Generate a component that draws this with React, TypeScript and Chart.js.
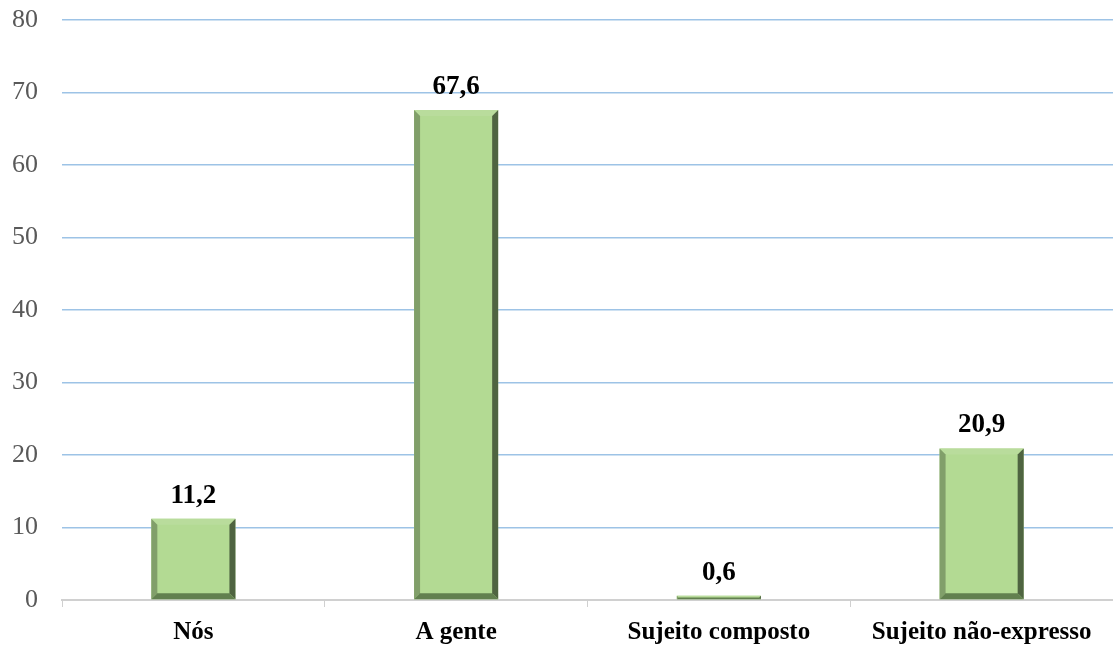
import React, { useEffect, useRef } from "react";
import { Chart, registerables } from "chart.js";

Chart.register(...registerables);

const categories = ["Nós", "A gente", "Sujeito composto", "Sujeito não-expresso"];
const values = [11.2, 67.6, 0.6, 20.9];
const valueLabels = ["11,2", "67,6", "0,6", "20,9"];

const FONT = "'Liberation Serif', 'Times New Roman', serif";

const bevelPlugin = {
  id: "bevel",
  afterDatasetsDraw(chart: any) {
    const ctx = chart.ctx;
    const meta = chart.getDatasetMeta(0);
    meta.data.forEach((bar: any, i: number) => {
      const { x, y, base, width } = bar.getProps(["x", "y", "base", "width"], true);
      const l = x - width / 2;
      const r = x + width / 2;
      const t = Math.min(y, base);
      const b = Math.max(y, base);
      const h = b - t;
      const bw = Math.min(6, h / 2);
      ctx.save();
      const poly = (pts: number[][], color: string) => {
        ctx.beginPath();
        ctx.moveTo(pts[0][0], pts[0][1]);
        for (let k = 1; k < pts.length; k++) ctx.lineTo(pts[k][0], pts[k][1]);
        ctx.closePath();
        ctx.fillStyle = color;
        ctx.fill();
      };
      poly([[l, t], [r, t], [r - bw, t + bw], [l + bw, t + bw]], "#b9dc9c");
      poly([[l, t], [l + bw, t + bw], [l + bw, b - bw], [l, b]], "#819f6a");
      poly([[r, t], [r, b], [r - bw, b - bw], [r - bw, t + bw]], "#4f6441");
      poly([[l, b], [l + bw, b - bw], [r - bw, b - bw], [r, b]], "#62804f");
      ctx.restore();

      ctx.save();
      ctx.font = `bold 27px ${FONT}`;
      ctx.fillStyle = "#000000";
      ctx.textAlign = "center";
      ctx.textBaseline = "middle";
      ctx.fillText(valueLabels[i], x, t - 23);
      ctx.restore();
    });
  },
};

export default function App() {
  const ref = useRef<HTMLCanvasElement>(null);
  useEffect(() => {
    document.body.style.margin = "0";
    const canvas = ref.current!;
    const chart = new Chart(canvas, {
      type: "bar",
      data: {
        labels: categories,
        datasets: [
          {
            data: values,
            backgroundColor: "#b3da93",
            borderWidth: 0,
            barPercentage: 0.64,
            categoryPercentage: 0.5,
          },
        ],
      },
      options: {
        animation: false,
        responsive: false,
        maintainAspectRatio: false,
        layout: { padding: { top: 20, right: 0, left: 0, bottom: 0 } },
        plugins: { legend: { display: false }, tooltip: { enabled: false } },
        scales: {
          x: {
            grid: {
              drawOnChartArea: false,
              drawTicks: true,
              tickLength: 7,
              color: "#d0d0d0",
              offset: true,
            },
            border: { color: "#d0d0d0", width: 2 },
            ticks: {
              font: { family: FONT, size: 25, weight: "bold" },
              color: "#000000",
              padding: 11,
              maxRotation: 0,
            },
            afterFit(scale: any) {
              scale.height = 48;
              scale.paddingLeft = 0;
              scale.paddingRight = 0;
            },
          },
          y: {
            min: 0,
            max: 80,
            ticks: {
              stepSize: 10,
              font: { family: FONT, size: 26 },
              color: "#595959",
              padding: 24,
            },
            grid: { color: "#9dc3e6", lineWidth: 1.5, drawTicks: false },
            border: { display: false },
            afterFit(scale: any) {
              scale.width = 62;
              scale.paddingTop = 0;
              scale.paddingBottom = 0;
            },
          },
        },
      },
      plugins: [bevelPlugin],
    });
    return () => chart.destroy();
  }, []);
  return <canvas ref={ref} width={1113} height={648} style={{ display: "block" }} />;
}
